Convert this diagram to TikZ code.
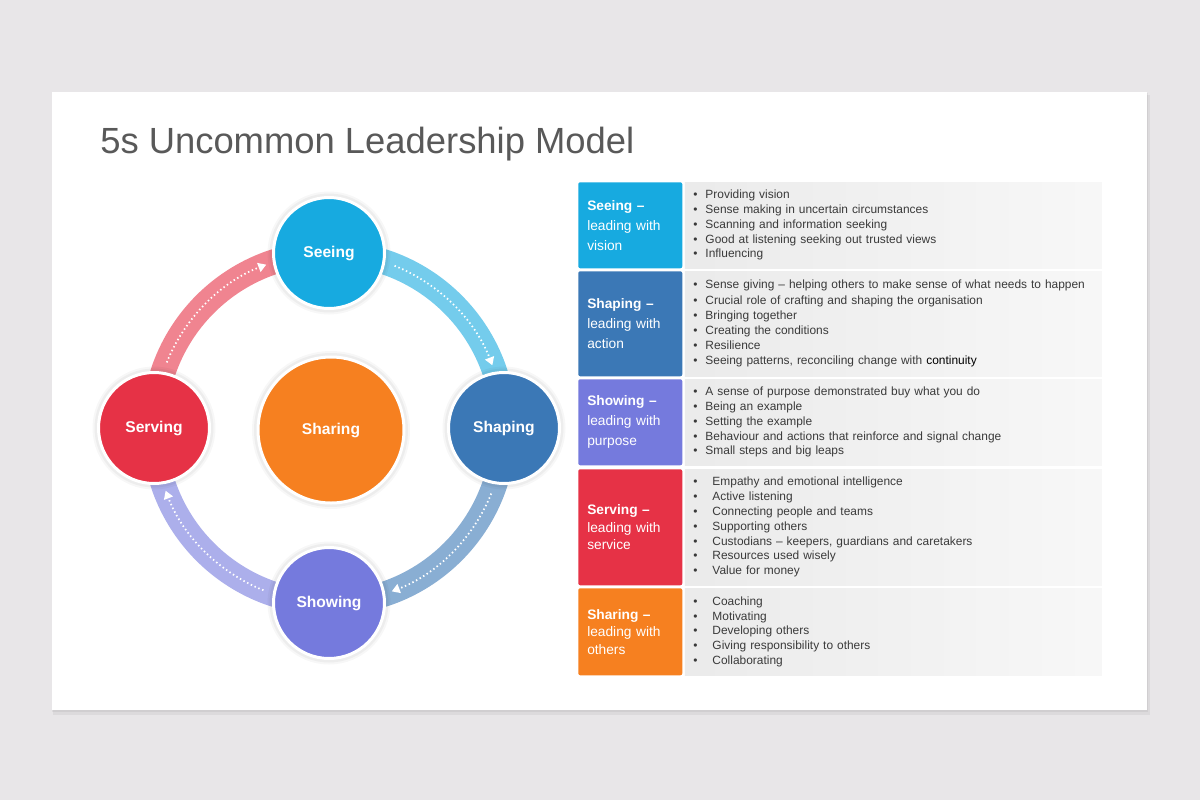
\documentclass[tikz,border=0pt]{standalone}
\usepackage{fontspec}
\setmainfont{Liberation Sans}
\usepackage{xcolor}
\usepackage{tikz}
\usetikzlibrary{positioning}
\usetikzlibrary{arrows.meta}
\usetikzlibrary{backgrounds}

\definecolor{seeingc}{RGB}{23,170,224}
\definecolor{shapingc}{RGB}{59,120,182}
\definecolor{showingc}{RGB}{117,122,221}
\definecolor{servingc}{RGB}{230,50,70}
\definecolor{sharingc}{RGB}{246,128,32}
\definecolor{pagebg}{RGB}{232,230,232}
\definecolor{titlegray}{RGB}{89,89,89}
\definecolor{bodygray}{RGB}{58,58,58}

\newcommand{\itm}[1]{\makebox[9pt][l]{\textbullet}#1}
\newcommand{\itmw}[1]{\makebox[14.25pt][l]{\textbullet}#1}

\tikzset{
	stage/.style={circle, fill=#1, draw=white, line width=2.25pt, minimum size=83.25pt,
		text=white, font=\fontsize{11.7}{14}\selectfont\bfseries,
		preaction={draw=black, line width=9pt, opacity=0.03},
		preaction={draw=black, line width=6pt, opacity=0.04}},
	band/.style={draw=#1!60, line width=18.75pt},
	flow/.style={draw=white, line width=1.3pt, dash pattern=on 1.1pt off 2pt,
		-{Triangle[width=7pt,length=6pt]}},
	lblbox/.style={fill=#1, rounded corners=1.5pt, anchor=north west, minimum width=78pt,
		inner xsep=6.75pt, text width=64.5pt, align=left, text=white,
		font=\fontsize{10.3}{15}\selectfont},
	listbox/.style={left color=black!8, right color=black!3, inner xsep=6.5pt,
		text width=299.75pt, align=left, text=bodygray,
		font=\fontsize{8.95}{11.1}\selectfont}
}

\begin{document}
\begin{tikzpicture}[x=0.75pt,y=0.75pt]
	\useasboundingbox (0,0) rectangle (1200,-800);
	%slide
	\begin{scope}[on background layer]
		\fill[pagebg] (0,0) rectangle (1200,-800);
		\fill[black,opacity=0.05] (53,-95) rectangle (1150,-715);
		\fill[black,opacity=0.05] (52,-93) rectangle (1148,-712);
		\fill[white] (52,-92) rectangle (1147,-710);
	\end{scope}
	
	%title
	\node[anchor=base west, inner sep=0pt, text=titlegray, font=\fontsize{27.3}{32}\selectfont] (title) at (100,-153) {5s Uncommon Leadership Model};
	
	%cycle
	\coordinate (hub) at (329,-428);
	\node[stage=seeingc] (seeing) at (329,-253) {Seeing};
	\node[stage=shapingc] (shaping) at (504,-428) {Shaping};
	\node[stage=showingc] (showing) at (329,-603) {Showing};
	\node[stage=servingc] (serving) at (154,-428) {Serving};
	\node[stage=sharingc, minimum size=109.5pt] (sharing) at (331,-430) {Sharing};
	
	\begin{scope}[on background layer]
		\draw[band=seeingc] (seeing.center) to[out=0,in=90] (shaping.center);
		\draw[band=shapingc] (shaping.center) to[out=-90,in=0] (showing.center);
		\draw[band=showingc] (showing.center) to[out=180,in=-90] (serving.center);
		\draw[band=servingc] (serving.center) to[out=90,in=180] (seeing.center);
		\draw[flow] (hub) ++(68:175) arc[start angle=68, end angle=21, radius=175];
		\draw[flow] (hub) ++(-22:175) arc[start angle=-22, end angle=-69, radius=175];
		\draw[flow] (hub) ++(248:175) arc[start angle=248, end angle=201, radius=175];
		\draw[flow] (hub) ++(158:175) arc[start angle=158, end angle=111, radius=175];
	\end{scope}
	
	%table
	\node[lblbox=seeingc, minimum height=64.5pt] (lbl-seeing) at (578,-182) {{\bfseries Seeing –}\\leading with\\vision};
	\node[listbox, minimum height=64.5pt, right=1.5pt of lbl-seeing] (lst-seeing) {\itm{Providing vision}\\\itm{Sense making in uncertain circumstances}\\\itm{Scanning and information seeking}\\\itm{Good at listening seeking out trusted views}\\\itm{Influencing}};
	
	\node[lblbox=shapingc, minimum height=78.75pt] (lbl-shaping) at (578,-271) {{\bfseries Shaping –}\\leading with\\action};
	\node[listbox, minimum height=78.75pt, right=1.5pt of lbl-shaping, font=\fontsize{8.95}{11.4}\selectfont] (lst-shaping) {\itm{Sense giving – helping others to make sense of what needs to happen}\\\itm{Crucial role of crafting and shaping the organisation}\\\itm{Bringing together}\\\itm{Creating the conditions}\\\itm{Resilience}\\\itm{Seeing patterns, reconciling change with \textcolor{black}{continuity}}};
	
	\node[lblbox=showingc, minimum height=64.5pt] (lbl-showing) at (578,-379) {{\bfseries Showing –}\\leading with\\purpose};
	\node[listbox, minimum height=64.5pt, right=1.5pt of lbl-showing] (lst-showing) {\itm{A sense of purpose demonstrated buy what you do}\\\itm{Being an example}\\\itm{Setting the example}\\\itm{Behaviour and actions that reinforce and signal change}\\\itm{Small steps and big leaps}};
	
	\node[lblbox=servingc, minimum height=87pt, font=\fontsize{10.3}{13.1}\selectfont] (lbl-serving) at (578,-469) {{\bfseries Serving –}\\leading with\\service};
	\node[listbox, minimum height=87pt, right=1.5pt of lbl-serving] (lst-serving) {\itmw{Empathy and emotional intelligence}\\\itmw{Active listening}\\\itmw{Connecting people and teams}\\\itmw{Supporting others}\\\itmw{Custodians – keepers, guardians and caretakers}\\\itmw{Resources used wisely}\\\itmw{Value for money}};
	
	\node[lblbox=sharingc, minimum height=65.25pt, font=\fontsize{10.3}{13.1}\selectfont] (lbl-sharing) at (578,-588) {{\bfseries Sharing –}\\leading with\\others};
	\node[listbox, minimum height=65.25pt, right=1.5pt of lbl-sharing] (lst-sharing) {\itmw{Coaching}\\\itmw{Motivating}\\\itmw{Developing others}\\\itmw{Giving responsibility to others}\\\itmw{Collaborating}};
\end{tikzpicture}
\end{document}
